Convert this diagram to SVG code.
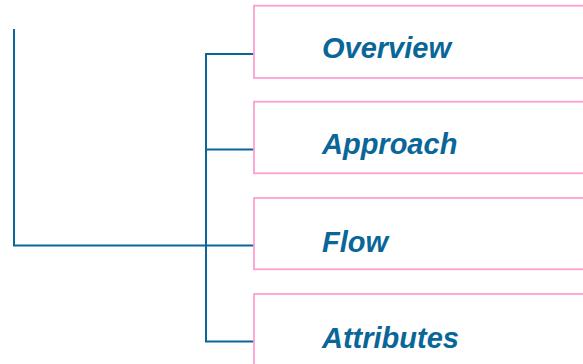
<svg xmlns="http://www.w3.org/2000/svg" width="583" height="364" viewBox="0 0 583 364">
<style>
.box{fill:#ffffff;stroke:#ff9fd0;stroke-width:1.8}
.lbl{font-family:"Liberation Sans",Arial,sans-serif;font-size:29px;font-weight:bold;font-style:italic;fill:#0a6699}
.con{fill:none;stroke:#0a6699;stroke-width:2}
</style>
<rect width="583" height="364" fill="#ffffff"/>
<g id="connectors">
<path class="con" d="M14,29 V245.5 H254"/>
<path class="con" d="M254,54 H206 V341.5 H254"/>
<path class="con" d="M206,149.5 H254"/>
</g>
<g id="node-overview">
<rect class="box" x="254" y="5.7" width="340" height="72.3"/>
<text class="lbl" x="322" y="57.5">Overview</text>
</g>
<g id="node-approach">
<rect class="box" x="254" y="101.7" width="340" height="71.6"/>
<text class="lbl" x="322" y="153.5">Approach</text>
</g>
<g id="node-flow">
<rect class="box" x="254" y="198" width="340" height="71.3"/>
<text class="lbl" x="322" y="252">Flow</text>
</g>
<g id="node-attributes">
<rect class="box" x="254" y="294" width="340" height="72"/>
<text class="lbl" x="322" y="348">Attributes</text>
</g>
</svg>
